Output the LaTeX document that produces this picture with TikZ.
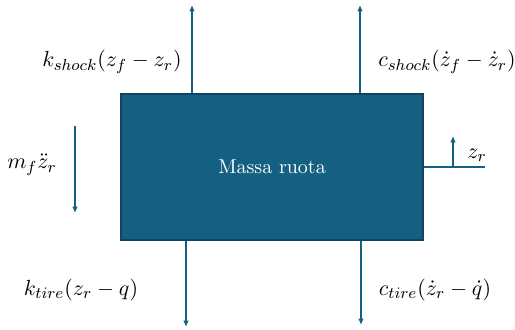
\documentclass[tikz,border=0pt]{standalone}
\usepackage{amsmath,amssymb}
\usepackage{xcolor}
\usepackage{tikz}
\usetikzlibrary{arrows.meta,positioning}
\definecolor{corteal}{RGB}{21,96,130}
\definecolor{corbordo}{RGB}{14,70,96}

\begin{document}
\begin{tikzpicture}[
  x=0.5pt, y=-0.5pt,
  massa/.style={rectangle, draw=corbordo, thick, fill=corteal,
                minimum width=151pt, minimum height=73pt,
                align=center, text=white, font=\normalsize},
  forza/.style={font=\fontsize{11}{13}\selectfont},
  seta/.style={-{Latex[length=3.2pt,width=2.8pt]}, semithick, color=corteal},
  linha/.style={semithick, color=corteal}
]
  \useasboundingbox (0,0) rectangle (515,330);

  \node[massa] (ruota) at (272,167) {Massa ruota};

  % estremi liberi delle frecce
  \coordinate (ksh) at (192,5);
  \coordinate (csh) at (360,5);
  \coordinate (kti) at (186,327);
  \coordinate (cti) at (361,325);
  \coordinate (inA) at (75,126);
  \coordinate (inB) at (75,213);
  \coordinate (zfin) at (485,167);
  \coordinate (zbase) at (453,167);
  \coordinate (ztop) at (453,136);

  \node[forza] (lksh) at (112,62) {$k_{shock}(z_f - z_r)$};
  \node[forza] (lcsh) at (447,62) {$c_{shock}(\dot{z}_f - \dot{z}_r)$};
  \node[forza] (lkti) at (81,290) {$k_{tire}(z_r - q)$};
  \node[forza] (lcti) at (435,290) {$c_{tire}(\dot{z}_r - \dot{q})$};
  \node[forza] (lin) at (32,165) {$m_f\ddot{z}_r$};
  \node[forza] (lzr) at (477,155) {$z_r$};

  \draw[seta] (ruota.north -| ksh) -- (ksh);
  \draw[seta] (ruota.north -| csh) -- (csh);
  \draw[seta] (ruota.south -| kti) -- (kti);
  \draw[seta] (ruota.south -| cti) -- (cti);
  \draw[seta] (inA) -- (inB);
  \draw[linha] (ruota.east) -- (zfin);
  \draw[seta] (zbase) -- (ztop);
\end{tikzpicture}
\end{document}
